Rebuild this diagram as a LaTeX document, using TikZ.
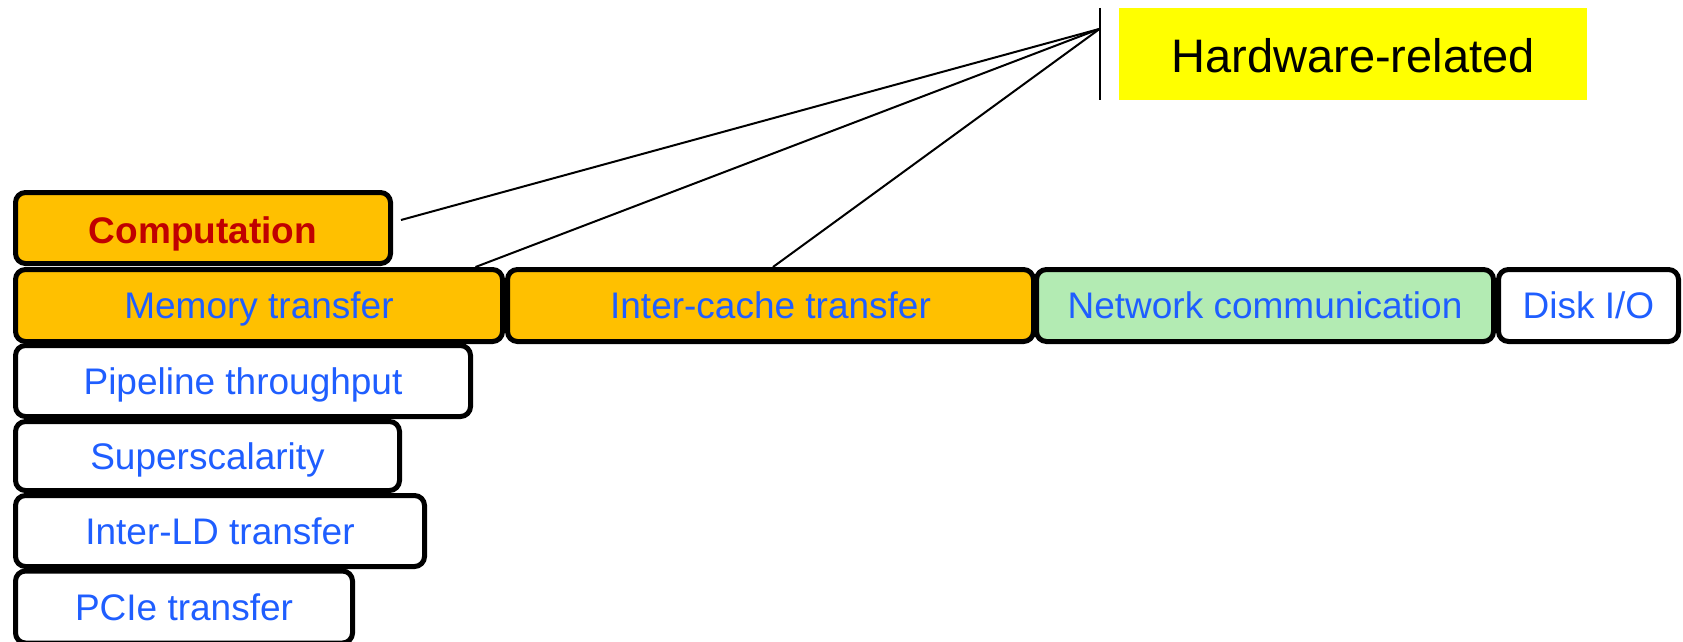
\documentclass[tikz,border=0pt]{standalone}
\usepackage{fontspec}
\setmainfont{Liberation Sans}
\usetikzlibrary{calc}
\definecolor{boxorange}{HTML}{FFC000}
\definecolor{boxgreen}{HTML}{B3EBB3}
\definecolor{textblue}{HTML}{1F5EFF}
\definecolor{textred}{HTML}{C00000}
\definecolor{tagyellow}{HTML}{FFFF00}
\tikzset{
  cell/.style={draw=black, line width=5pt, rounded corners=10pt, inner sep=0pt,
    text=textblue, font=\fontsize{37pt}{44pt}\selectfont,
    text height=26.5pt, text depth=0pt, fill=white},
  hot/.style={fill=boxorange},
  net/.style={fill=boxgreen},
  link/.style={draw=black, line width=2pt},
  tag/.style={fill=tagyellow, inner sep=0pt, font=\fontsize{47pt}{56pt}\selectfont,
    text height=37.6pt, text depth=0pt}
}
\begin{document}
\begin{tikzpicture}[x=1pt,y=-1pt]
\useasboundingbox (0,0) rectangle (1683,642);

% category label with its bracket
\node[tag, minimum width=468pt, minimum height=92pt] (hw) at (1353,54) {Hardware-related};
\coordinate (bartop) at ([xshift=-19pt]hw.north west);
\coordinate (barbot) at ([xshift=-19pt]hw.south west);
\coordinate (hub) at ([yshift=-21pt]bartop);
\draw[link] (bartop) -- (barbot);

% stacked cells
\node[cell, hot, minimum width=375pt, minimum height=71pt, text=textred, text height=30.5pt,
      font=\fontsize{37pt}{44pt}\selectfont\bfseries] (comp) at (203,228) {Computation};
\node[cell, hot, minimum width=487pt, minimum height=72pt] (mem) at (259,305.5) {Memory transfer};
\node[cell, hot, minimum width=526pt, minimum height=72pt] (ic) at (770.5,305.5) {Inter-cache transfer};
\node[cell, net, minimum width=457pt, minimum height=72pt] (nc) at (1265,305.5) {Network communication};
\node[cell, minimum width=180pt, minimum height=72pt] (disk) at (1588.5,305.5) {Disk I/O};
\node[cell, minimum width=455pt, minimum height=71pt] (pipe) at (243,381) {Pipeline throughput};
\node[cell, minimum width=384pt, minimum height=69pt] (sup) at (207.5,456) {Superscalarity};
\node[cell, minimum width=409pt, minimum height=71pt] (ild) at (220,531) {Inter-LD transfer};
\node[cell, minimum width=337pt, minimum height=72pt] (pcie) at (184,607) {PCIe transfer};

% links from the label to the hardware-related cells
\draw[link] (hub) -- ([shift={(8,-8)}]comp.east);
\draw[link] (hub) -- ([xshift=-29.5pt]mem.north east);
\draw[link] (hub) -- ([xshift=2.5pt]ic.north);
\end{tikzpicture}
\end{document}
